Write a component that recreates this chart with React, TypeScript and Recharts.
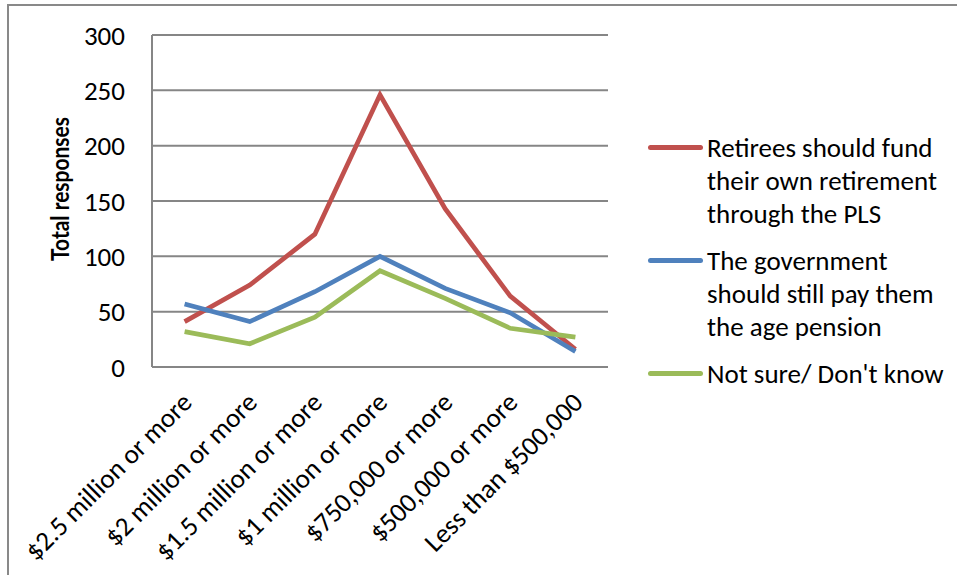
import React from 'react';
import { LineChart, Line, XAxis, YAxis, CartesianGrid, Legend } from 'recharts';

const categories = [
  '$2.5 million or more',
  '$2 million or more',
  '$1.5 million or more',
  '$1 million or more',
  '$750,000 or more',
  '$500,000 or more',
  'Less than $500,000',
];
const fundOwn = [41, 74, 120, 246, 143, 64, 16];
const govPay = [57, 41, 68, 100, 71, 49, 14];
const notSure = [32, 21, 45, 87, 62, 35, 27];
const yTicks = [0, 50, 100, 150, 200, 250, 300];

const seriesNames = [
  'Retirees should fund their own retirement through the PLS',
  'The government should still pay them the age pension',
  'Not sure/ Don\'t know',
];
const seriesColors = ['#C0504D', '#4F81BD', '#9BBB59'];

const data = categories.map((c, i) => ({
  name: c,
  s0: fundOwn[i],
  s1: govPay[i],
  s2: notSure[i],
}));

const FONT = 'Calibri, Carlito, Lato, sans-serif';
const FS = 27;

const XTick = (props: any) => {
  const { x, y, payload } = props;
  return (
    <g transform={`translate(${x + 9},${y + 37})`}>
      <text
        x={0}
        y={0}
        textAnchor="end"
        transform="rotate(-45)"
        fontFamily={FONT}
        fontSize={FS}
        fill="#000"
      >
        {payload.value}
      </text>
    </g>
  );
};

const YTitle = (props: any) => {
  const vb = props.viewBox || {};
  const cx = (vb.x ?? 0) + 69;
  const cy = (vb.y ?? 0) + (vb.height ?? 0) / 2 - 12;
  return (
    <text
      x={cx}
      y={cy}
      textAnchor="middle"
      transform={`rotate(-90, ${cx}, ${cy})`}
      fontFamily="Lato, sans-serif"
      fontWeight="bold"
      fontSize={24}
      textLength={144}
      lengthAdjust="spacingAndGlyphs"
      fill="#000"
    >
      Total responses
    </text>
  );
};

const LegendContent = (props: any) => {
  const payload = [...(props.payload || [])].sort(
    (a: any, b: any) => seriesNames.indexOf(a.value) - seriesNames.indexOf(b.value)
  );
  return (
    <div style={{ fontFamily: FONT, fontSize: FS, color: '#000' }}>
      {payload.map((p: any, i: number) => (
        <div key={i} style={{ display: 'flex', alignItems: 'flex-start', marginBottom: 14 }}>
          <div
            style={{
              width: 55,
              height: 5,
              background: p.color,
              borderRadius: 2.5,
              marginTop: 14,
              marginRight: 4,
              flexShrink: 0,
            }}
          />
          <div style={{ width: 240, lineHeight: '33px', whiteSpace: 'normal' }}>{p.value}</div>
        </div>
      ))}
    </div>
  );
};

export default function App() {
  return (
    <div
      style={{
        position: 'absolute',
        left: 0,
        top: 0,
        width: 957,
        height: 575,
        overflow: 'hidden',
        background: '#fff',
      }}
    >
      <div
        style={{
          position: 'absolute',
          left: 7,
          top: 4,
          width: 2000,
          height: 2000,
          border: '2px solid #898989',
        }}
      />
      <div style={{ position: 'absolute', left: 0, top: 0 }}>
        <LineChart
          width={957}
          height={575}
          data={data}
          margin={{ top: 35, right: 349, left: 0, bottom: 0 }}
        >
          <CartesianGrid vertical={false} stroke="#868686" strokeWidth={2} />
          <XAxis
            dataKey="name"
            height={208}
            interval={0}
            padding={{ left: 32.6, right: 32.6 }}
            tick={<XTick />}
            tickLine={false}
            tickSize={0}
            tickMargin={0}
            axisLine={{ stroke: '#868686', strokeWidth: 2 }}
          />
          <YAxis
            width={152}
            domain={[0, 300]}
            ticks={yTicks}
            interval={0}
            tickLine={false}
            tickSize={0}
            tickMargin={27}
            axisLine={{ stroke: '#868686', strokeWidth: 2 }}
            tick={{ fontFamily: FONT, fontSize: FS, fill: '#000' }}
            label={<YTitle />}
          />
          <Legend
            layout="vertical"
            align="center"
            verticalAlign="middle"
            content={<LegendContent />}
            wrapperStyle={{ left: 648, top: 131, width: 310 }}
          />
          {[fundOwn, govPay, notSure].map((_, i) => (
            <Line
              key={i}
              type="linear"
              dataKey={`s${i}`}
              name={seriesNames[i]}
              stroke={seriesColors[i]}
              strokeWidth={4.7}
              dot={false}
              activeDot={false}
              isAnimationActive={false}
            />
          ))}
        </LineChart>
      </div>
    </div>
  );
}
